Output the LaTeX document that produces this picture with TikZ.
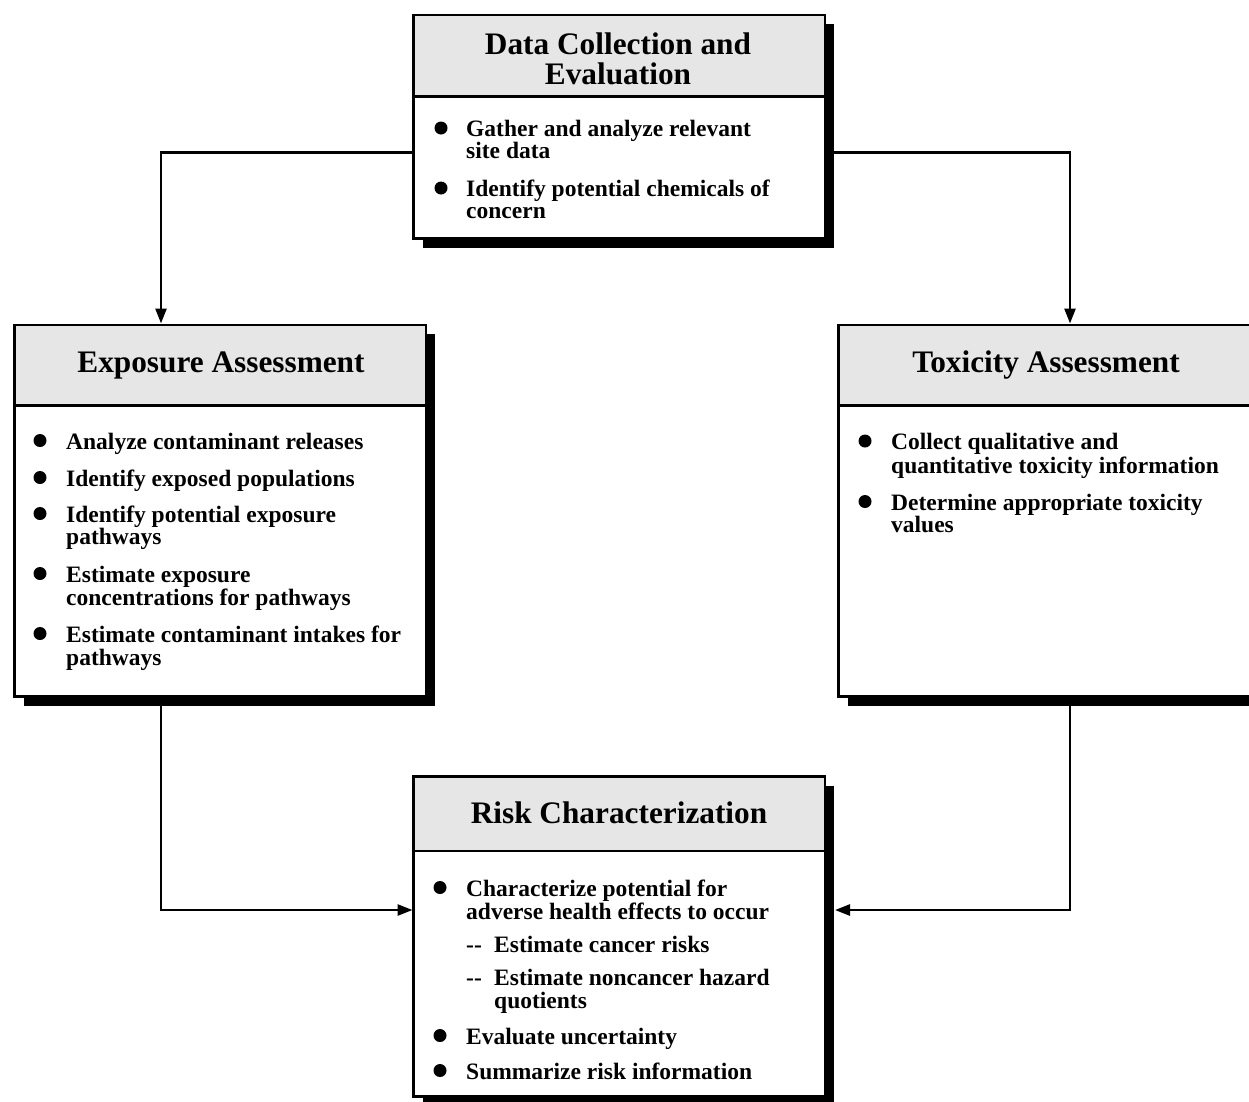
\documentclass[tikz,border=0pt]{standalone}
\usepackage{fontspec}
\setmainfont{Liberation Serif}
\usetikzlibrary{arrows.meta,shadows}
\definecolor{headgray}{RGB}{230,230,230}
\newcommand\twolns[3]{\vtop{\baselineskip=#1\lineskiplimit=-100pt\relax\hbox{#2}\hbox{#3}}}
\tikzset{
  boxbody/.style={draw, line width=2.6pt, fill=white, rectangle, inner sep=0pt, outer sep=0pt,
    minimum width=411.5pt, anchor=north west,
    drop shadow={shadow xshift=9pt, shadow yshift=-9pt, fill=black, opacity=1}},
  boxhead/.style={draw, line width=2.6pt, fill=headgray, rectangle, inner sep=0pt, outer sep=0pt,
    minimum width=411.5pt, anchor=north west},
  ttl/.style={font=\fontsize{31.3}{31.3}\selectfont\bfseries, inner sep=0pt, anchor=base},
  itm/.style={font=\fontsize{23.5}{23.5}\selectfont\bfseries, inner sep=0pt, anchor=base west},
  dot/.style={circle, fill=black, inner sep=0pt, minimum size=13pt},
  link/.style={line width=2.6pt},
  arr/.style={link, -{Triangle[width=11pt,length=15pt]}}
}
\begin{document}
\begin{tikzpicture}[x=1pt,y=-1pt]
\useasboundingbox (0,0) rectangle (1249,1101);
\clip (0,0) rectangle (1249,1101);

% boxes
\node[boxbody, minimum height=223.5pt] (data) at (413.5,15) {};
\node[boxbody, minimum height=371.5pt] (expo) at (14.5,325) {};
\node[boxbody, minimum height=371.5pt] (toxi) at (838.5,325) {};
\node[boxbody, minimum height=320pt] (risk) at (413.5,776.5) {};

% connector end points
\coordinate (eTop) at (161,323.5);
\coordinate (tTop) at (1070,323.5);
\coordinate (eBot) at (161,697);
\coordinate (tBot) at (1070,697);
\coordinate (rL) at (412.5,910);
\coordinate (rR) at (835,910);

\draw[arr] (data.west |- 0,152.5) -| (eTop);
\draw[arr] (data.east |- 0,152.5) -| (tTop);
\draw[arr] (eBot) |- (rL);
\draw[arr] (tBot) |- (rR);

% headers
\node[boxhead, minimum height=81.5pt] (datah) at (413.5,15) {};
\node[boxhead, minimum height=80.5pt] (expoh) at (14.5,325) {};
\node[boxhead, minimum height=80.5pt] (toxih) at (838.5,325) {};
\node[boxhead, minimum height=74.5pt] (riskh) at (413.5,776.5) {};

% titles
\node[ttl] (dt) at (618,54) {\twolns{30pt}{\hbox to 0pt{\hss Data Collection and\hss}}{\hbox to 0pt{\hss Evaluation\hss}}};
\node[ttl] (et) at (221,372) {Exposure Assessment};
\node[ttl] (tt) at (1046,372) {Toxicity Assessment};
\node[ttl] (rt) at (619,823) {Risk Characterization};

% data items
\node[dot] (db1) at (441,128) {};
\node[itm] (d1) at (466,136.5) {\twolns{22pt}{Gather and analyze relevant}{site data}};
\node[dot] (db2) at (441,188) {};
\node[itm] (d3) at (466,196.5) {\twolns{22pt}{Identify potential chemicals of}{concern}};

% exposure items
\node[dot] (eb1) at (40,440.5) {};
\node[itm] (e1) at (66,449) {Analyze contaminant releases};
\node[dot] (eb2) at (40,477.5) {};
\node[itm] (e2) at (66,486) {Identify exposed populations};
\node[dot] (eb3) at (40,513.5) {};
\node[itm] (e3) at (66,522) {\twolns{22pt}{Identify potential exposure}{pathways}};
\node[dot] (eb4) at (40,573.5) {};
\node[itm] (e5) at (66,582) {\twolns{23pt}{Estimate exposure}{concentrations for pathways}};
\node[dot] (eb5) at (40,633.5) {};
\node[itm] (e7) at (66,642) {\twolns{23pt}{Estimate contaminant intakes for}{pathways}};

% toxicity items
\node[dot] (tb1) at (865,441) {};
\node[itm] (t1) at (891,449.5) {\twolns{23.5pt}{Collect qualitative and}{quantitative toxicity information}};
\node[dot] (tb2) at (865,501.5) {};
\node[itm] (t3) at (891,510) {\twolns{22.5pt}{Determine appropriate toxicity}{values}};

% risk items
\node[dot] (rb1) at (440,887.5) {};
\node[itm] (r1) at (466,896) {\twolns{23pt}{Characterize potential for}{adverse health effects to occur}};
\node[itm] (r3a) at (466,952) {-{}-};
\node[itm] (r3) at (494,952) {Estimate cancer risks};
\node[itm] (r4a) at (466,985) {-{}-};
\node[itm] (r4) at (494,985) {\twolns{23pt}{Estimate noncancer hazard}{quotients}};
\node[dot] (rb2) at (440,1035.5) {};
\node[itm] (r6) at (466,1044) {Evaluate uncertainty};
\node[dot] (rb3) at (440,1070.5) {};
\node[itm] (r7) at (466,1079) {Summarize risk information};
\end{tikzpicture}
\end{document}
